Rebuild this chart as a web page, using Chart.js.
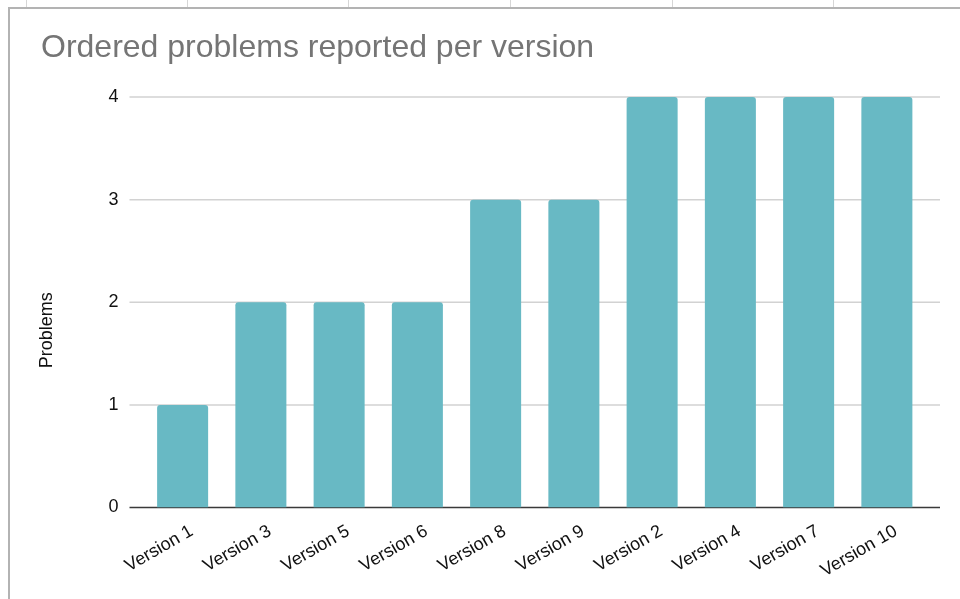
<!DOCTYPE html>
<html>
<head>
<meta charset="utf-8">
<script src="https://cdn.jsdelivr.net/npm/chart.js@4"></script>
<style>
  html, body { margin: 0; padding: 0; background: #fff; overflow: hidden; }
  body { width: 960px; height: 599px; position: relative; }
  .col { position: absolute; top: 0; width: 1px; height: 8px; background: #d6d6d6; }
  .frame { position: absolute; left: 8px; top: 7px; right: -4px; bottom: -4px;
           border-left: 2px solid #b3b3b3; border-top: 2px solid #b3b3b3; }
  #wrap { position: absolute; left: 0; top: 0; width: 960px; height: 599px; }
</style>
</head>
<body>
<div class="col" style="left:26px"></div>
<div class="col" style="left:187px"></div>
<div class="col" style="left:348px"></div>
<div class="col" style="left:510px"></div>
<div class="col" style="left:672px"></div>
<div class="col" style="left:833px"></div>
<div class="frame"></div>
<div id="wrap"><canvas id="grafico"></canvas></div>
<script>
const versiones = ['Version 1', 'Version 3', 'Version 5', 'Version 6', 'Version 8',
                   'Version 9', 'Version 2', 'Version 4', 'Version 7', 'Version 10'];
const problemas = [1, 2, 2, 2, 3, 3, 4, 4, 4, 4];
const ticksY = [0, 1, 2, 3, 4];
const tituloY = 'Problems';

const fuente = '"Liberation Sans", Arial, Helvetica, sans-serif';

// horizontal grid drawn a bit wider than the plot, baseline in dark grey
const lineasFondo = {
    id: 'lineasFondo',
    beforeDatasetsDraw(chart) {
        const { ctx, chartArea, scales: { y } } = chart;
        const x0 = chartArea.left - 14;
        const x1 = chartArea.right + 14;
        ctx.save();
        ticksY.forEach(v => {
            const py = y.getPixelForValue(v);
            ctx.beginPath();
            ctx.strokeStyle = v === 0 ? '#3a3a3a' : '#d2d2d2';
            ctx.lineWidth = 1.5;
            ctx.moveTo(x0, py);
            ctx.lineTo(x1, py);
            ctx.stroke();
        });
        ctx.restore();
    }
};

// y axis title, sits a bit lower than the plot's middle
const tituloEje = {
    id: 'tituloEje',
    afterDraw(chart) {
        const { ctx, chartArea } = chart;
        const cy = (chartArea.top + chartArea.bottom) / 2 + 28;
        ctx.save();
        ctx.translate(47, cy);
        ctx.rotate(-Math.PI / 2);
        ctx.fillStyle = '#111';
        ctx.font = '18px ' + fuente;
        ctx.textAlign = 'center';
        ctx.textBaseline = 'middle';
        ctx.fillText(tituloY, 0, 0);
        ctx.restore();
    }
};

const ctx = document.getElementById('grafico').getContext('2d');

new Chart(ctx, {
    type: 'bar',
    data: {
        labels: versiones,
        datasets: [{
            label: tituloY,
            data: problemas,
            backgroundColor: '#68b9c4',
            borderRadius: 3,
            borderSkipped: 'start',
            categoryPercentage: 1,
            barPercentage: 0.652
        }]
    },
    options: {
        responsive: true,
        maintainAspectRatio: false,
        animation: false,
        layout: { padding: { left: 41, right: 34, top: 0, bottom: 0 } },
        plugins: {
            legend: { display: false },
            tooltip: { enabled: false },
            title: {
                display: true,
                text: 'Ordered problems reported per version',
                align: 'start',
                color: '#757575',
                font: { family: fuente, size: 32, weight: 'normal' },
                padding: { top: 29, bottom: 29.6 }
            }
        },
        scales: {
            x: {
                grid: { display: false },
                border: { display: false },
                ticks: {
                    color: '#111',
                    font: { family: fuente, size: 18 },
                    maxRotation: 30,
                    minRotation: 30,
                    labelOffset: 9,
                    padding: 5
                },
                afterFit(scale) { scale.height = 91.5; }
            },
            y: {
                min: 0,
                max: 4,
                grid: { display: false, drawTicks: false },
                border: { display: false },
                afterBuildTicks(scale) { scale.ticks = ticksY.map(v => ({ value: v })); },
                ticks: {
                    color: '#111',
                    font: { family: fuente, size: 18 },
                    padding: 25
                },
                afterFit(scale) { scale.width = 102.5; }
            }
        }
    },
    plugins: [lineasFondo, tituloEje]
});
</script>
</body>
</html>
